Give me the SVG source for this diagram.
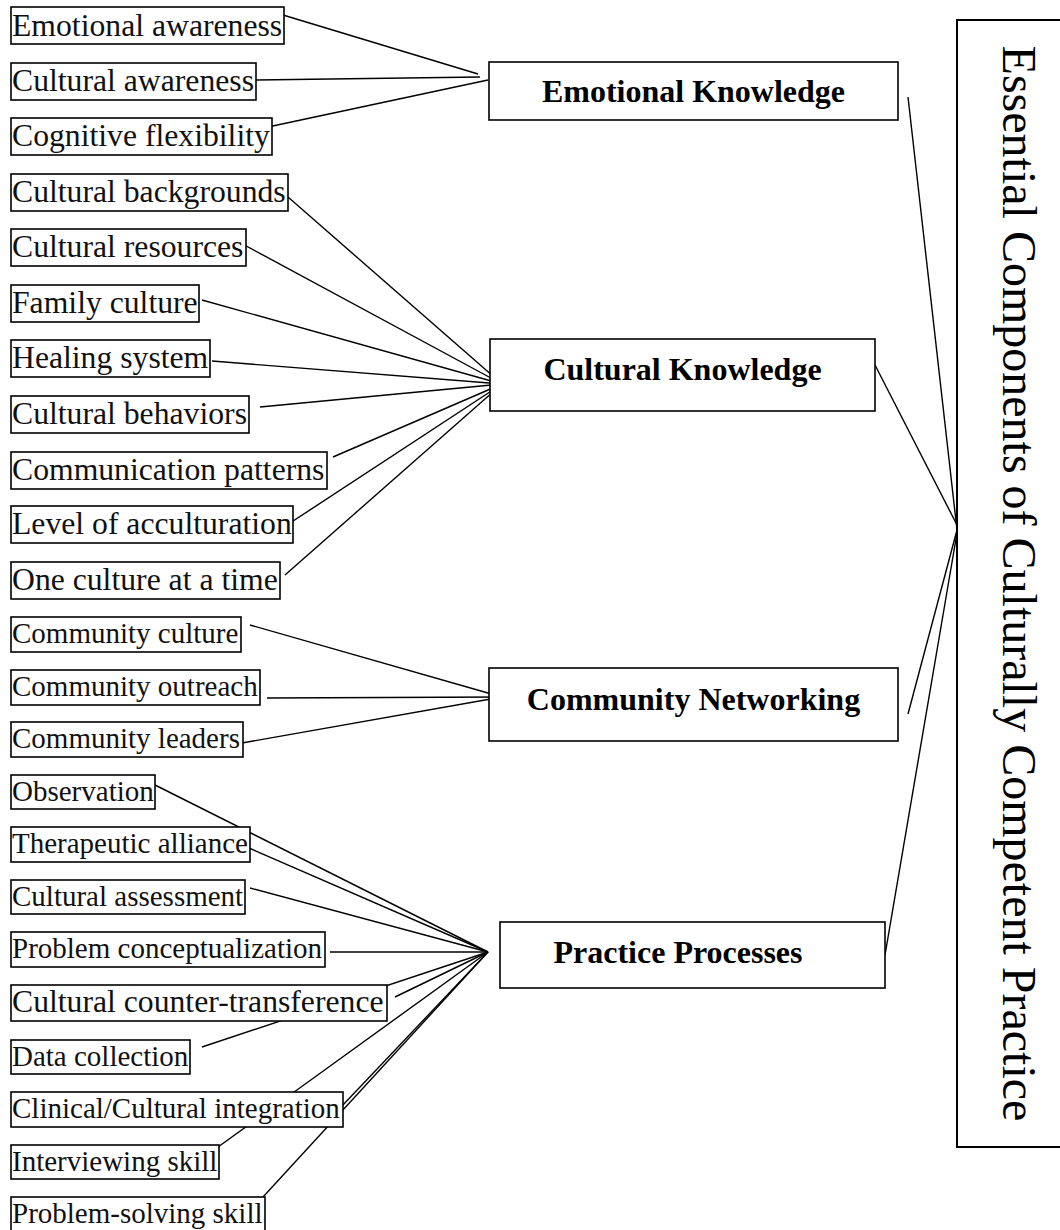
<svg xmlns="http://www.w3.org/2000/svg" width="1060" height="1230" viewBox="0 0 1060 1230">
<style>
.b{fill:#fff;stroke:#000;stroke-width:1.6}
.t{font-family:"Liberation Serif","Times New Roman",serif;font-size:31.7px;fill:#111}
.s{font-family:"Liberation Serif","Times New Roman",serif;font-size:29px;fill:#111}
.h{font-family:"Liberation Serif","Times New Roman",serif;font-size:32px;font-weight:bold;fill:#000;text-anchor:middle}
.v{font-family:"Liberation Serif","Times New Roman",serif;font-size:48px;fill:#000;text-anchor:middle}
.c line{stroke:#000;stroke-width:1.4}
</style>
<rect width="1060" height="1230" fill="#fff"/>
<g class="c" id="connectors">
<line x1="283" y1="15" x2="478" y2="74"/>
<line x1="256" y1="80" x2="480" y2="77"/>
<line x1="268" y1="127" x2="488" y2="80"/>
<line x1="288" y1="197" x2="502" y2="384"/>
<line x1="237" y1="241" x2="502" y2="384"/>
<line x1="202" y1="300" x2="502" y2="384"/>
<line x1="212" y1="361" x2="502" y2="384"/>
<line x1="260" y1="407" x2="502" y2="384"/>
<line x1="333" y1="457" x2="502" y2="384"/>
<line x1="287" y1="525" x2="502" y2="384"/>
<line x1="285" y1="575" x2="502" y2="384"/>
<line x1="250" y1="625" x2="502" y2="697"/>
<line x1="267" y1="698" x2="502" y2="697"/>
<line x1="242" y1="743" x2="502" y2="697"/>
<line x1="155" y1="785" x2="488" y2="952"/>
<line x1="249" y1="848" x2="488" y2="952"/>
<line x1="250" y1="888" x2="488" y2="952"/>
<line x1="330" y1="952" x2="488" y2="952"/>
<line x1="395" y1="997" x2="488" y2="952"/>
<line x1="202" y1="1047" x2="488" y2="952"/>
<line x1="342" y1="1106" x2="488" y2="952"/>
<line x1="218" y1="1147" x2="488" y2="952"/>
<line x1="263" y1="1197" x2="488" y2="952"/>
<line x1="908" y1="97" x2="957" y2="530"/>
<line x1="875" y1="365" x2="957" y2="525"/>
<line x1="908" y1="714" x2="957" y2="530"/>
<line x1="885" y1="955" x2="957" y2="533"/>
</g>
<g id="n1"><rect class="b" x="11" y="7" width="273" height="37"/><text class="t" x="12" y="36">Emotional awareness</text></g>
<g id="n2"><rect class="b" x="11" y="63" width="245" height="37"/><text class="t" x="12" y="91">Cultural awareness</text></g>
<g id="n3"><rect class="b" x="11" y="118" width="261" height="37"/><text class="t" x="12" y="146">Cognitive flexibility</text></g>
<g id="n4"><rect class="b" x="11" y="174" width="277" height="37"/><text class="t" x="12" y="202">Cultural backgrounds</text></g>
<g id="n5"><rect class="b" x="11" y="229" width="235" height="37"/><text class="t" x="12" y="257">Cultural resources</text></g>
<g id="n6"><rect class="b" x="11" y="285" width="188" height="37"/><text class="t" x="12" y="313">Family culture</text></g>
<g id="n7"><rect class="b" x="11" y="340" width="199" height="37"/><text class="t" x="12" y="368">Healing system</text></g>
<g id="n8"><rect class="b" x="11" y="396" width="238" height="37"/><text class="t" x="12" y="424">Cultural behaviors</text></g>
<g id="n9"><rect class="b" x="11" y="452" width="316" height="37"/><text class="t" x="12" y="480">Communication patterns</text></g>
<g id="n10"><rect class="b" x="11" y="506" width="282" height="37"/><text class="t" x="12" y="534">Level of acculturation</text></g>
<g id="n11"><rect class="b" x="11" y="562" width="269" height="37"/><text class="t" x="12" y="590">One culture at a time</text></g>
<g id="n12"><rect class="b" x="11" y="617" width="230" height="35"/><text class="s" x="12" y="643">Community culture</text></g>
<g id="n13"><rect class="b" x="11" y="670" width="249" height="35"/><text class="s" x="12" y="696">Community outreach</text></g>
<g id="n14"><rect class="b" x="11" y="722" width="232" height="35"/><text class="s" x="12" y="748">Community leaders</text></g>
<g id="n15"><rect class="b" x="11" y="775" width="144" height="34"/><text class="s" x="12" y="801">Observation</text></g>
<g id="n16"><rect class="b" x="11" y="827" width="239" height="35"/><text class="s" x="12" y="853">Therapeutic alliance</text></g>
<g id="n17"><rect class="b" x="11" y="880" width="234" height="34"/><text class="s" x="12" y="906">Cultural assessment</text></g>
<g id="n18"><rect class="b" x="11" y="932" width="314" height="35"/><text class="s" x="12" y="958">Problem conceptualization</text></g>
<g id="n19"><rect class="b" x="11" y="985" width="376" height="36"/><text class="t" x="12" y="1012">Cultural counter-transference</text></g>
<g id="n20"><rect class="b" x="11" y="1040" width="179" height="34"/><text class="s" x="12" y="1066">Data collection</text></g>
<g id="n21"><rect class="b" x="11" y="1092" width="332" height="35"/><text class="s" x="12" y="1118">Clinical/Cultural integration</text></g>
<g id="n22"><rect class="b" x="11" y="1145" width="208" height="34"/><text class="s" x="12" y="1171">Interviewing skill</text></g>
<g id="n23"><rect class="b" x="11" y="1197" width="254" height="35"/><text class="s" x="12" y="1223">Problem-solving skill</text></g>
<g id="h1"><rect class="b" x="489" y="62" width="409" height="58"/><text class="h" x="693.5" y="102">Emotional Knowledge</text></g>
<g id="h2"><rect class="b" x="490" y="339" width="385" height="72"/><text class="h" x="682.5" y="380">Cultural Knowledge</text></g>
<g id="h3"><rect class="b" x="489" y="668" width="409" height="73"/><text class="h" x="693.5" y="710">Community Networking</text></g>
<g id="h4"><rect class="b" x="500" y="922" width="385" height="66"/><text class="h" x="678" y="963">Practice Processes</text></g>
<g id="main"><rect x="957" y="20" width="110" height="1127" fill="none" stroke="#000" stroke-width="2"/><text class="v" transform="translate(1003,583.5) rotate(90)" x="0" y="0">Essential Components of Culturally Competent Practice</text></g>
</svg>
